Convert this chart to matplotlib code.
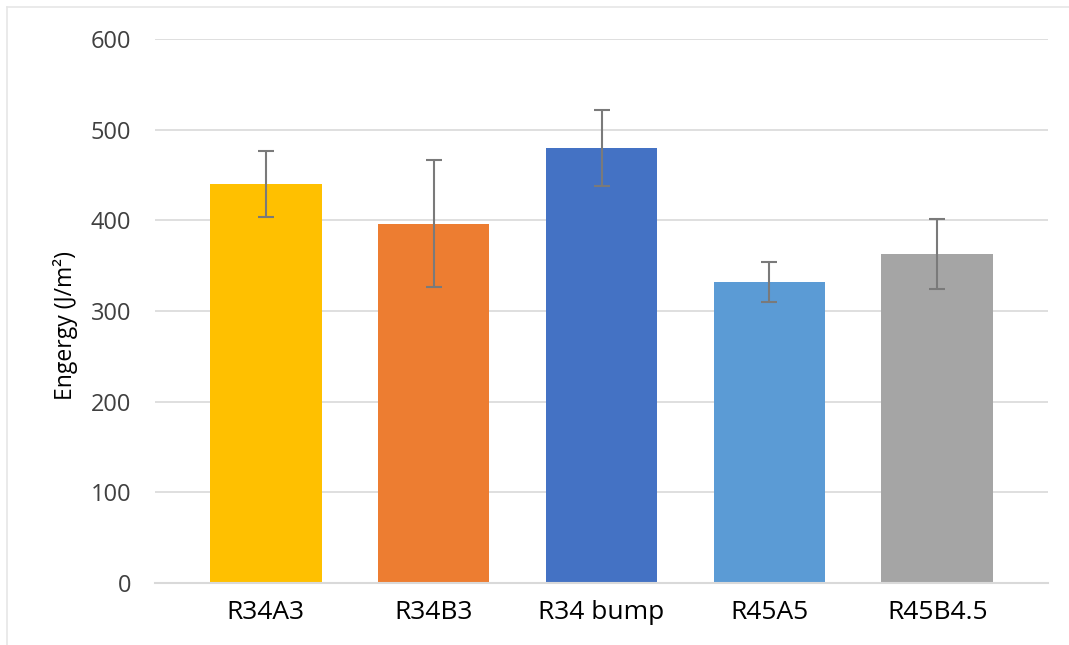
import numpy as np
import matplotlib
matplotlib.use("Agg")
import matplotlib.pyplot as plt
from matplotlib.lines import Line2D

plt.rcParams['font.family'] = ['Open Sans', 'DejaVu Sans']

categories = ['R34A3', 'R34B3', 'R34 bump', 'R45A5', 'R45B4.5']
energy = [440, 396, 480, 332, 363]
err = [36, 70, 42, 22, 39]
colors = ['#FFC000', '#ED7D31', '#4472C4', '#5B9BD5', '#A5A5A5']
yticks = [0, 100, 200, 300, 400, 500, 600]

W, H = 1069, 645
fig = plt.figure(figsize=(W / 100, H / 100), dpi=100)
ax = fig.add_axes([155 / W, 1 - 583 / H, (1048 - 155) / W, (583 - 39) / H])

x = np.arange(len(categories))
ax.bar(x, energy, width=0.665, color=colors, zorder=2)
ax.errorbar(x, energy, yerr=err, fmt='none', ecolor='#7a7a7a', elinewidth=1.5,
            capsize=6, capthick=1.5, zorder=3)

ax.set_xlim(-0.66, 4.66)
ax.set_ylim(0, 600)
ax.set_yticks(yticks)
ax.set_yticklabels([str(v) for v in yticks], fontsize=17, color='#404040')
ax.set_xticks(x)
ax.set_xticklabels(categories, fontsize=19, color='black')
ax.tick_params(axis='both', length=0)
ax.tick_params(axis='y', pad=17)
ax.tick_params(axis='x', pad=12)

ax.grid(axis='y', color='#d9d9d9', linewidth=1.2, zorder=0)
ax.set_axisbelow(True)
for s in ['top', 'right', 'left']:
    ax.spines[s].set_visible(False)
ax.spines['bottom'].set_color('#d9d9d9')
ax.spines['bottom'].set_linewidth(1.5)

ax.set_ylabel('Engergy (J/m²)', fontsize=16.5, color='black')
ax.yaxis.set_label_coords(-0.086, 0.474)

# thin border of the chart area (top and left visible in the screenshot)
fig.add_artist(Line2D([7 / W, 1], [1 - 7 / H, 1 - 7 / H], color='#e6e6e6', lw=1.2))
fig.add_artist(Line2D([7 / W, 7 / W], [0, 1 - 7 / H], color='#e6e6e6', lw=1.2))

fig.savefig('out.png', dpi=100)
